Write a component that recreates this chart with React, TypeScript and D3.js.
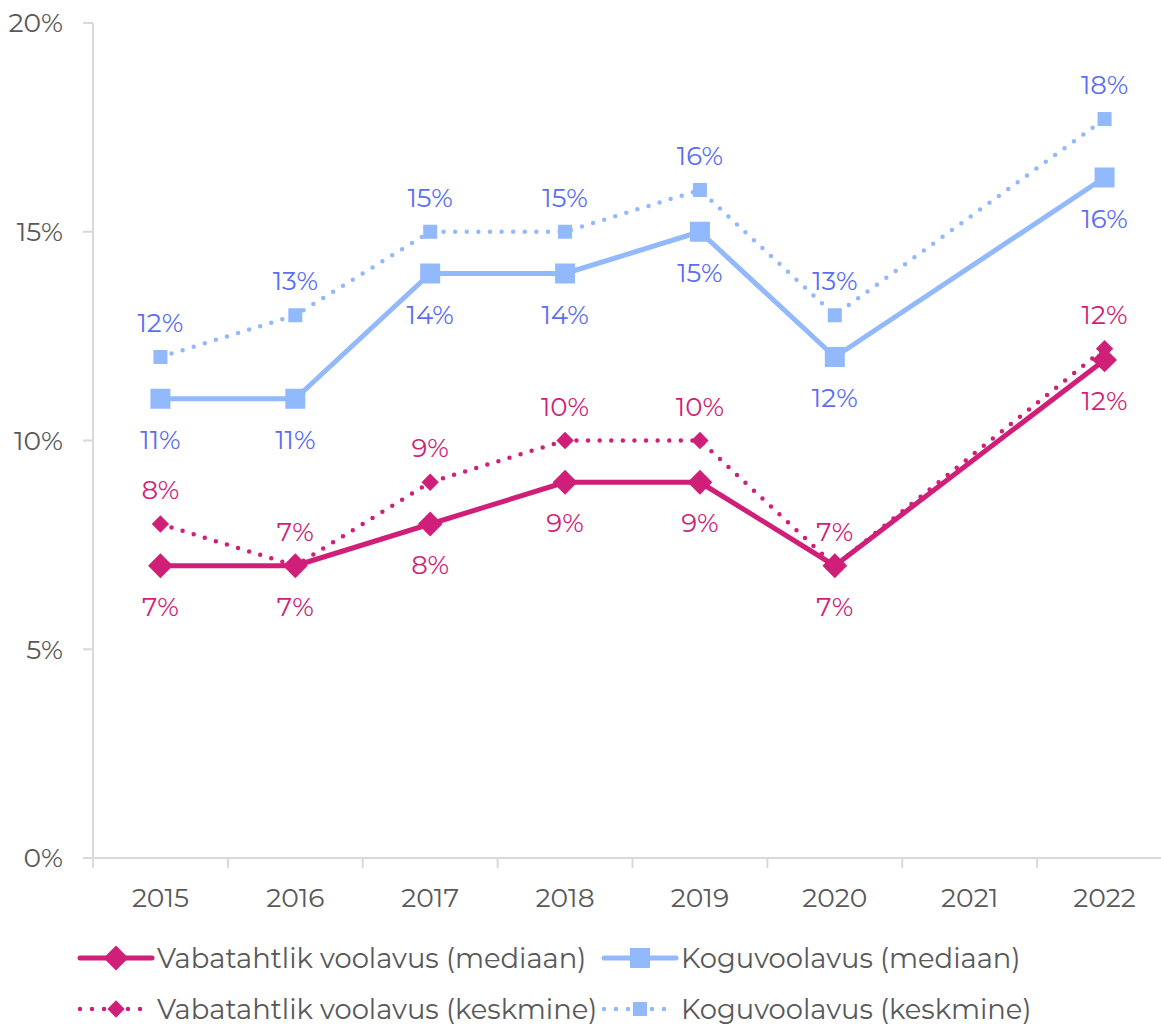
import * as d3 from "d3";

const years = ["2015", "2016", "2017", "2018", "2019", "2020", "2021", "2022"];
const volMedian = [7, 7, 8, 9, 9, 7, null, 11.93];
const volMean = [8, 7, 9, 10, 10, 7, null, 12.2];
const totalMedian = [11, 11, 14, 14, 15, 12, null, 16.3];
const totalMean = [12, 13, 15, 15, 16, 13, null, 17.7];
const yTicks = [0, 5, 10, 15, 20];

const PINK = "#cf1f78";
const BLUE = "#93b9fd";
const BLUE_TEXT = "#5b6df2";
const GREY = "#595959";
const FONT = "Montserrat, 'DejaVu Sans', sans-serif";

const series = [
  { name: "Vabatahtlik voolavus (mediaan)", values: volMedian, color: PINK, text: PINK, dotted: false, shape: "diamond", above: false },
  { name: "Koguvoolavus (mediaan)", values: totalMedian, color: BLUE, text: BLUE_TEXT, dotted: false, shape: "square", above: false },
  { name: "Vabatahtlik voolavus (keskmine)", values: volMean, color: PINK, text: PINK, dotted: true, shape: "diamond", above: true },
  { name: "Koguvoolavus (keskmine)", values: totalMean, color: BLUE, text: BLUE_TEXT, dotted: true, shape: "square", above: true },
];

function Marker({ x, y, shape, size, color }: { x: number; y: number; shape: string; size: number; color: string }) {
  if (shape === "square") {
    return <rect x={x - size / 2} y={y - size / 2} width={size} height={size} fill={color} />;
  }
  const r = size * 0.62;
  return <path d={`M${x},${y - r}L${x + r},${y}L${x},${y + r}L${x - r},${y}Z`} fill={color} />;
}

export default function App() {
  const width = 1161;
  const height = 1025;
  const x = d3.scaleBand().domain(years).range([93, 1172]);
  const y = d3.scaleLinear().domain([0, 20]).range([858, 23]);
  const cx = (yr: string) => (x(yr) as number) + x.bandwidth() / 2;

  const line = d3
    .line<[string, number]>()
    .x((d) => cx(d[0]))
    .y((d) => y(d[1]));

  const legendPos = [
    { lx: 80, ly: 958 },
    { lx: 604, ly: 958 },
    { lx: 80, ly: 1009 },
    { lx: 604, ly: 1009 },
  ];

  const drawOrder = [2, 3, 0, 1];

  return (
    <svg width={width} height={height} style={{ position: "absolute", left: 0, top: 0, fontFamily: FONT }}>
      {/* axes */}
      <line x1={93} x2={93} y1={y(20)} y2={868} stroke="#d9d9d9" strokeWidth={2} />
      <line x1={83} x2={1172} y1={y(0)} y2={y(0)} stroke="#d9d9d9" strokeWidth={2} />
      {yTicks.map((t) => (
        <g key={t}>
          <line x1={83} x2={93} y1={y(t)} y2={y(t)} stroke="#d9d9d9" strokeWidth={2} />
          <text x={63} y={y(t)} dy="0.35em" textAnchor="end" fontSize={26.5} fill={GREY}>
            {t}%
          </text>
        </g>
      ))}
      {years.map((yr) => (
        <g key={yr}>
          <line x1={(x(yr) as number) + x.bandwidth()} x2={(x(yr) as number) + x.bandwidth()} y1={858} y2={868} stroke="#d9d9d9" strokeWidth={2} />
          <text x={cx(yr)} y={898} dy="0.35em" textAnchor="middle" fontSize={26.5} fill={GREY}>
            {yr}
          </text>
        </g>
      ))}

      {/* lines */}
      {drawOrder.map((i) => {
        const s = series[i];
        const pts = years
          .map((yr, j) => [yr, s.values[j]] as [string, number | null])
          .filter((d) => d[1] !== null) as [string, number][];
        return (
          <g key={s.name}>
            <path
              d={line(pts) || ""}
              fill="none"
              stroke={s.color}
              strokeWidth={s.dotted ? 4.5 : 5}
              strokeDasharray={s.dotted ? "0 11.6" : undefined}
              strokeLinecap={s.dotted ? "round" : "butt"}
              strokeLinejoin="round"
            />
            {pts.map((d) => (
              <Marker key={d[0]} x={cx(d[0])} y={y(d[1])} shape={s.shape} size={s.dotted ? 14 : 20} color={s.color} />
            ))}
          </g>
        );
      })}

      {/* data labels */}
      {series.map((s) =>
        years.map((yr, j) => {
          const v = s.values[j];
          if (v === null) return null;
          return (
            <text
              key={s.name + yr}
              x={cx(yr)}
              y={y(v) + (s.above ? -34 : 41)}
              dy="0.35em"
              textAnchor="middle"
              fontSize={26}
              fill={s.text}
            >
              {Math.round(v)}%
            </text>
          );
        })
      )}

      {/* legend */}
      {series.map((s, i) => {
        const { lx, ly } = legendPos[i];
        return (
          <g key={"lg" + s.name}>
            <line
              x1={lx}
              x2={lx + 72}
              y1={ly}
              y2={ly}
              stroke={s.color}
              strokeWidth={s.dotted ? 4.5 : 5}
              strokeDasharray={s.dotted ? "0 12" : undefined}
              strokeLinecap="round"
            />
            <Marker x={lx + 36} y={ly} shape={s.shape} size={s.dotted ? 14 : 20} color={s.color} />
            <text x={lx + 77} y={ly} dy="0.35em" fontSize={27.4} fill={GREY}>
              {s.name}
            </text>
          </g>
        );
      })}
    </svg>
  );
}
